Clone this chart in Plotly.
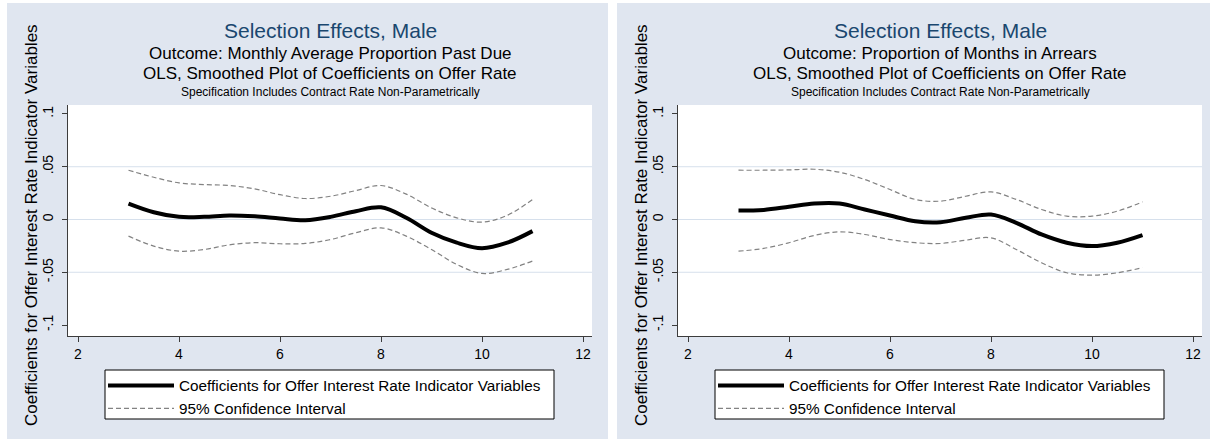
import plotly.graph_objects as go

# ---------------- data ----------------
offer_rate = [3, 3.5, 4, 4.5, 5, 5.5, 6, 6.5, 7, 7.5, 8, 8.5, 9, 9.5, 10, 10.5, 11]

p1_coef = [0.0151, 0.0069, 0.0025, 0.0025, 0.0038, 0.0030, 0.0010, -0.0006, 0.0025,
           0.0079, 0.0115, 0.0016, -0.0126, -0.0220, -0.0272, -0.0220, -0.0110]
p1_upper = [0.0467, 0.0400, 0.0347, 0.0331, 0.0322, 0.0290, 0.0235, 0.0199, 0.0220,
            0.0274, 0.0322, 0.0240, 0.0110, 0.0016, -0.0025, 0.0040, 0.0190]
p1_lower = [-0.0158, -0.0252, -0.0300, -0.0284, -0.0240, -0.0220, -0.0230, -0.0227, -0.0190,
            -0.0126, -0.0079, -0.0158, -0.0284, -0.0426, -0.0511, -0.0473, -0.0394]

p2_coef = [0.0085, 0.0091, 0.0120, 0.0151, 0.0151, 0.0095, 0.0038, -0.0016, -0.0025,
           0.0016, 0.0047, -0.0032, -0.0142, -0.0220, -0.0252, -0.0220, -0.0148]
p2_upper = [0.0467, 0.0467, 0.0470, 0.0476, 0.0448, 0.0379, 0.0284, 0.0190, 0.0174,
            0.0220, 0.0262, 0.0190, 0.0095, 0.0032, 0.0032, 0.0079, 0.0167]
p2_lower = [-0.0300, -0.0274, -0.0220, -0.0151, -0.0117, -0.0142, -0.0190, -0.0220, -0.0227,
            -0.0196, -0.0174, -0.0284, -0.0410, -0.0505, -0.0527, -0.0505, -0.0457]

x_ticks = [2, 4, 6, 8, 10, 12]
y_ticks = [-0.1, -0.05, 0, 0.05, 0.1]
y_tick_text = ["-.1", "-.05", "0", ".05", ".1"]
grid_vals = [-0.05, 0, 0.05]

title_main = "Selection Effects, Male"
outcomes = ["Outcome: Monthly Average Proportion Past Due",
            "Outcome: Proportion of Months in Arrears"]
sub2 = "OLS, Smoothed Plot of Coefficients on Offer Rate"
sub3 = "Specification Includes Contract Rate Non-Parametrically"
ytitle = "Coefficients for Offer Interest Rate Indicator Variables"
leg_coef = "Coefficients for Offer Interest Rate Indicator Variables"
leg_ci = "95% Confidence Interval"

# ---------------- layout constants ----------------
W, H = 1210, 440
FONT = "Liberation Sans, Arial, sans-serif"
PANEL = "rgb(224,230,240)"
GRID = "rgb(214,224,236)"
AXIS = "rgb(60,60,60)"
NAVY = "rgb(26,71,111)"
CI_COLOR = "rgb(130,130,130)"
off = 610

def px(x):
    return x / W

def py(y):
    return 1 - y / H

fig = go.Figure()

panels = [(p1_coef, p1_upper, p1_lower), (p2_coef, p2_upper, p2_lower)]
shapes = []
annotations = []

for i, (coef, up, lo) in enumerate(panels):
    xa = "x" if i == 0 else "x2"
    ya = "y" if i == 0 else "y2"
    lg = "legend" if i == 0 else "legend2"
    o = off * i
    fig.add_trace(go.Scatter(x=offer_rate, y=coef, mode="lines", line_shape="spline",
                             line=dict(color="black", width=4), name=leg_coef,
                             xaxis=xa, yaxis=ya, legend=lg))
    fig.add_trace(go.Scatter(x=offer_rate, y=up, mode="lines", line_shape="spline",
                             line=dict(color=CI_COLOR, width=1.2, dash="5px,3px"),
                             name=leg_ci, xaxis=xa, yaxis=ya, legend=lg))
    fig.add_trace(go.Scatter(x=offer_rate, y=lo, mode="lines", line_shape="spline",
                             line=dict(color=CI_COLOR, width=1.2, dash="5px,3px"),
                             name=leg_ci, showlegend=False, xaxis=xa, yaxis=ya, legend=lg))
    # panel background, plot area, legend box
    shapes.append(dict(type="rect", xref="paper", yref="paper", layer="below",
                       x0=px(7 + o), x1=min(1.0, px(608 + o)), y0=py(439), y1=py(3),
                       fillcolor=PANEL, line=dict(width=0)))
    shapes.append(dict(type="rect", xref="paper", yref="paper", layer="below",
                       x0=px(68 + o), x1=px(592 + o), y0=py(336), y1=py(105),
                       fillcolor="white", line=dict(width=0)))
    shapes.append(dict(type="rect", xref="paper", yref="paper", layer="below",
                       x0=px(105 + o), x1=px(554 + o), y0=py(419), y1=py(370),
                       fillcolor="white", line=dict(color="black", width=1)))
    for g in grid_vals:
        shapes.append(dict(type="line", xref=xa + " domain", yref=ya, layer="below",
                           x0=0, x1=1, y0=g, y1=g, line=dict(color=GRID, width=1)))
    cx = px(330 + o)
    annotations += [
        dict(text=title_main, x=cx, y=py(31), xref="paper", yref="paper", showarrow=False,
             xanchor="center", yanchor="middle", font=dict(size=21, color=NAVY, family=FONT)),
        dict(text=outcomes[i], x=cx, y=py(53), xref="paper", yref="paper", showarrow=False,
             xanchor="center", yanchor="middle", font=dict(size=17, color="black", family=FONT)),
        dict(text=sub2, x=cx, y=py(73), xref="paper", yref="paper", showarrow=False,
             xanchor="center", yanchor="middle", font=dict(size=17, color="black", family=FONT)),
        dict(text=sub3, x=cx, y=py(92), xref="paper", yref="paper", showarrow=False,
             xanchor="center", yanchor="middle", font=dict(size=12, color="black", family=FONT)),
        dict(text=ytitle, x=px(31 + o), y=py(225), xref="paper", yref="paper", showarrow=False,
             textangle=-90, xanchor="center", yanchor="middle",
             font=dict(size=17, color="black", family=FONT)),
    ]

axis_common = dict(showgrid=False, zeroline=False, showline=True, linecolor=AXIS, linewidth=1,
                   ticks="outside", ticklen=5, tickcolor=AXIS, tickwidth=1,
                   tickfont=dict(size=14, color="black", family=FONT))

xr = [1.802, 12.178]
yr = [-0.1104, 0.1085]
dom_y = [py(336), py(105)]

legend_common = dict(xanchor="left", yanchor="top", bgcolor="rgba(0,0,0,0)",
                     borderwidth=0, font=dict(size=15.3, family=FONT),
                     itemwidth=66, tracegroupgap=0)

fig.update_layout(
    width=W, height=H, margin=dict(l=0, r=0, t=0, b=0),
    paper_bgcolor="white", plot_bgcolor="rgba(0,0,0,0)",
    font=dict(family=FONT, color="black"),
    xaxis=dict(domain=[px(68), px(592)], range=xr, tickvals=x_ticks, anchor="y", **axis_common),
    yaxis=dict(domain=dom_y, range=yr, tickvals=y_ticks, ticktext=y_tick_text, tickangle=-90,
               ticklabelstandoff=3, anchor="x", **axis_common),
    xaxis2=dict(domain=[px(678), px(1202)], range=xr, tickvals=x_ticks, anchor="y2", **axis_common),
    yaxis2=dict(domain=dom_y, range=yr, tickvals=y_ticks, ticktext=y_tick_text, tickangle=-90,
                ticklabelstandoff=3, anchor="x2", **axis_common),
    legend=dict(x=px(103), y=py(369), **legend_common),
    legend2=dict(x=px(103 + off), y=py(369), **legend_common),
    shapes=shapes, annotations=annotations, showlegend=True,
)

fig.write_html("out.html", config={"displayModeBar": False},
               post_script="document.body.style.margin='0';document.body.style.overflow='hidden';")
